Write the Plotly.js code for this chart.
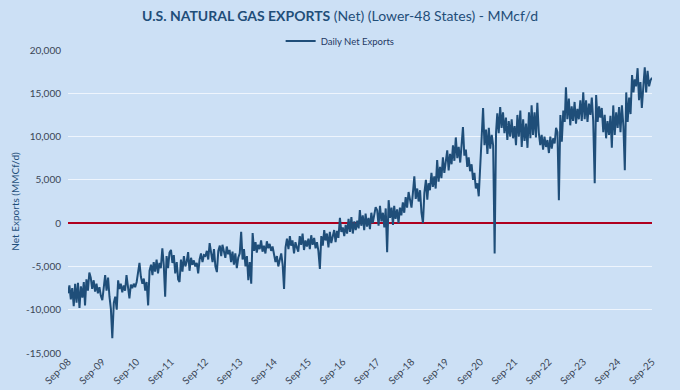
<!DOCTYPE html>
<html><head><meta charset="utf-8">
<script src="https://cdn.plot.ly/plotly-3.0.1.min.js"></script>
<style>
html,body{margin:0;padding:0;background:#cce0f5;}
#chart{width:680px;height:390px;}
</style></head>
<body><div id="chart"></div>
<script>
// Semi-monthly readings (1st and 16th of each month), one row per Sep–Aug year
const seriesName = "Daily Net Exports";
const startYear = 2008, startMonth = 9;
const netExports = [
 -8100,-7200,-8800,-7500,-9600,-7000,-9200,-6900,-9800,-7300,-8600,-6800,-9500,-6500,-7800,-5700,-6300,-7600,-6600,-7900,-7000,-8100,-7400,-8400,
 -8900,-7400,-6000,-7800,-6300,-8500,-9900,-13300,-9200,-8500,-10000,-6600,-7600,-7000,-8000,-7200,-7800,-6000,-7300,-8700,-7100,-7500,-7000,-7400,
 -6800,-5500,-4600,-6200,-7000,-6400,-7800,-6800,-9500,-5500,-4800,-6000,-4500,-5600,-4200,-5800,-4600,-5200,-2900,-4800,-8500,-3800,-5200,-3400,
 -3100,-4600,-3700,-5800,-4500,-6500,-6800,-4200,-5600,-3800,-5000,-4400,-3350,-5500,-4000,-4800,-4300,-5000,-4600,-5800,-4200,-3500,-4500,-3700,
 -3800,-3200,-4200,-2300,-3600,-4500,-3000,-5000,-5650,-3200,-2600,-3800,-2500,-3400,-4000,-2700,-3600,-3100,-4500,-3300,-4800,-3500,-5200,-4000,
 -3500,-1000,-4200,-3000,-5000,-3800,-6600,-4500,-7000,-1150,-3200,-2200,-3400,-2500,-3000,-2000,-3300,-2600,-3500,-2100,-2900,-2400,-3200,-2700,
 -3600,-4500,-3800,-5000,-4200,-3500,-4800,-7600,-2800,-1800,-3000,-1500,-2600,-2000,-3500,-2200,-2800,-3300,-1500,-2500,-1200,-3100,-2000,-2700,
 -1800,-3000,-1400,-2500,-1700,-2900,-2200,-3200,-5300,-1500,-2600,-800,-2000,-1200,-2800,-1000,-2300,-1500,-800,-2200,-900,-1700,600,-1000,
 -500,-1500,-200,-1200,500,-1000,700,-1200,200,-800,300,-600,1500,-300,900,-800,1100,-400,600,-700,1200,0,800,1850,
 1500,-300,2000,200,1200,-500,1700,-3350,2650,600,1800,-200,2000,500,1600,0,1800,900,2400,1200,3000,1800,3600,2600,
 1800,3500,5400,2800,4000,2500,3800,1200,0,3500,5000,2700,4600,3800,5800,4200,5400,4000,7300,4800,6500,5200,7600,5800,
 7000,8400,6100,8000,6800,9000,7200,9900,7500,8800,7000,9000,11100,7800,8500,6500,7600,6000,6800,5000,5800,4000,4600,3100,
 6000,9900,13300,9000,10800,8000,11000,8600,10200,9000,-3500,10500,12700,10400,13400,11000,12800,10400,12200,9600,11800,10000,12000,9800,
 11200,9000,12500,10000,13000,8800,12000,9500,11500,8700,12800,9800,13600,10200,12800,9900,13900,10500,9000,10200,8500,10000,8800,9600,
 8100,10000,8600,9800,9200,11000,10500,2650,12500,9400,13000,11700,15700,12000,14400,11300,13500,11800,14000,11500,13200,12000,14200,11800,
 15100,12000,14200,11700,13800,12500,14500,11800,4600,14800,11700,13500,12200,13300,10500,12500,9800,11800,10200,12400,8700,13600,10200,12800,
 11000,13400,10500,13600,11200,6100,15100,11700,14500,12600,17100,15100,16600,15800,17900,14200,16300,13300,15800,18000,15100,17600,15800,16500,
 16800
];
const yTickVals = [-15000,-10000,-5000,0,5000,10000,15000,20000];
const yTickText = ["-15,000","-10,000","-5,000","0","5,000","10,000","15,000","20,000"];

function pad(n){return (n<10?"0":"")+n;}
const dates = netExports.map((v,i)=>{
  const m0 = (startMonth-1) + Math.floor(i/2);
  const y = startYear + Math.floor(m0/12);
  const m = m0 % 12 + 1;
  return y + "-" + pad(m) + "-" + (i%2 ? "16" : "01");
});

const font = "Lato, 'Open Sans', sans-serif";
const trace = {
  x: dates, y: netExports, type: "scatter", mode: "lines", name: seriesName,
  line: {color: "#1f4e79", width: 2}
};
const layout = {
  width: 680, height: 390,
  paper_bgcolor: "#cce0f5", plot_bgcolor: "#cce0f5",
  margin: {l: 68, r: 28, t: 50, b: 37},
  font: {family: font, color: "#3a4656", size: 10},
  title: {
    text: "<b>U.S. NATURAL GAS EXPORTS</b> (Net) (Lower-48 States) - MMcf/d",
    font: {family: font, size: 14, color: "#1f4e79"},
    x: 0.5, xanchor: "center", y: 0.958, yanchor: "middle"
  },
  showlegend: true,
  legend: {orientation: "h", x: 0.466, xanchor: "center", y: 1.03, yanchor: "middle",
           font: {family: font, size: 9.5, color: "#1f3864"}, bgcolor: "rgba(0,0,0,0)",
           itemwidth: 30},
  xaxis: {
    type: "date", range: ["2008-09-01", "2025-09-01"],
    tick0: "2008-09-01", dtick: "M12", tickformat: "%b-%y", tickangle: -45,
    showgrid: false, showline: false, zeroline: false, ticks: "",
    tickfont: {family: font, size: 10, color: "#3a4656"}
  },
  yaxis: {
    range: [-15000, 20000], tickvals: yTickVals, ticktext: yTickText,
    showgrid: true, gridcolor: "#eef5fd", gridwidth: 1.2,
    zeroline: true, zerolinecolor: "#b0001e", zerolinewidth: 2.5,
    showline: false, ticks: "", ticklabelstandoff: 6,
    tickfont: {family: font, size: 10, color: "#3a4656"},
    title: {text: "Net Exports (MMCf/d)", font: {family: font, size: 10, color: "#1f4e79"}, standoff: 4}
  }
};
Plotly.newPlot("chart", [trace], layout, {displayModeBar: false, staticPlot: true});
</script></body></html>
